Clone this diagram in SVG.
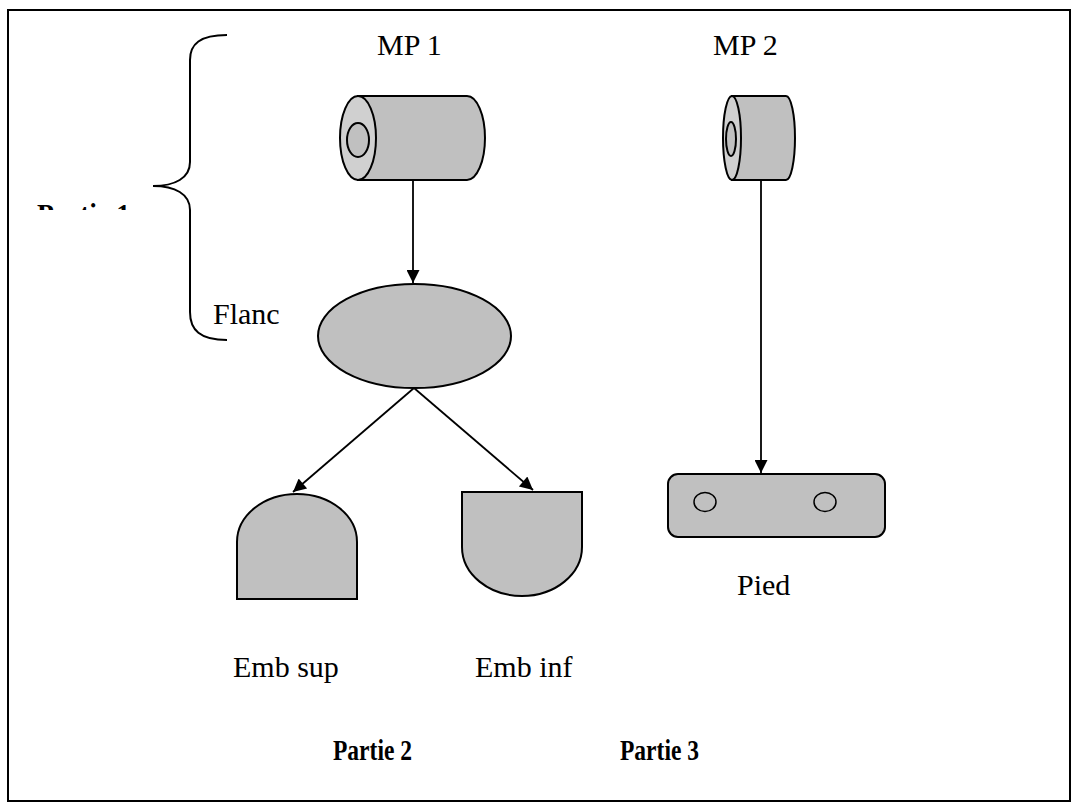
<svg xmlns="http://www.w3.org/2000/svg" width="1079" height="811" viewBox="0 0 1079 811">
  <style>
    .shape { fill: #c0c0c0; stroke: #000; stroke-width: 2; }
    .face { fill: #d0d0d0; stroke: #000; stroke-width: 2; }
    .lbl { font-family: "Liberation Serif", "Times New Roman", serif; font-size: 30px; fill: #000; }
    .bold { font-family: "Liberation Serif", "Times New Roman", serif; font-size: 30px; font-weight: bold; fill: #000; }
    .edge { fill: none; stroke: #000; stroke-width: 1.8; marker-end: url(#arrow); }
  </style>
  <defs>
    <marker id="arrow" viewBox="0 0 10 10" refX="10" refY="5" markerWidth="15" markerHeight="13" markerUnits="userSpaceOnUse" orient="auto">
      <path d="M0,0 L10,5 L0,10 Z" fill="#000"/>
    </marker>
    <clipPath id="cut">
      <rect x="0" y="195" width="200" height="15"/>
    </clipPath>
  </defs>

  <!-- frame -->
  <rect x="8" y="10" width="1062" height="791" fill="#fff" stroke="#000" stroke-width="2"/>

  <!-- brace grouping Partie 1 -->
  <g id="brace">
    <path d="M227,35 C200,35 190,44 190,60 L190,162 C190,178 175,186 153,186 C175,186 190,194 190,210 L190,312 C190,330 200,340 227,340" fill="none" stroke="#000" stroke-width="2"/>
    <text class="bold" x="37" y="224" textLength="93" lengthAdjust="spacingAndGlyphs" clip-path="url(#cut)">Partie 1</text>
  </g>

  <!-- raw material 1 -->
  <g id="mp1">
    <text class="lbl" x="377" y="55">MP 1</text>
    <path class="shape" d="M358,96 L467,96 A18,42 0 0 1 467,180 L358,180 Z"/>
    <ellipse class="face" cx="358" cy="138" rx="18" ry="42"/>
    <ellipse class="shape" cx="358" cy="140" rx="11" ry="17"/>
  </g>

  <!-- raw material 2 -->
  <g id="mp2">
    <text class="lbl" x="713" y="55">MP 2</text>
    <path class="shape" d="M732,96 L786,96 A9,42 0 0 1 786,180 L732,180 Z"/>
    <ellipse class="face" cx="732" cy="138" rx="9" ry="42"/>
    <ellipse class="shape" cx="731" cy="139" rx="5" ry="17"/>
  </g>

  <!-- flank -->
  <g id="flanc">
    <ellipse class="shape" cx="414.5" cy="336" rx="96.5" ry="52"/>
    <text class="lbl" x="213" y="324">Flanc</text>
  </g>

  <!-- upper bushing -->
  <g id="emb-sup">
    <path class="shape" d="M237,599 L237,542 A60,48 0 0 1 357,542 L357,599 Z"/>
    <text class="lbl" x="233" y="677">Emb sup</text>
  </g>

  <!-- lower bushing -->
  <g id="emb-inf">
    <path class="shape" d="M462,492 L582,492 L582,547 A60,49 0 0 1 462,547 Z"/>
    <text class="lbl" x="475" y="677">Emb inf</text>
  </g>

  <!-- foot -->
  <g id="pied">
    <rect class="shape" x="668" y="474" width="217" height="63" rx="10" ry="10"/>
    <ellipse fill="none" stroke="#000" stroke-width="1.5" cx="705" cy="502" rx="11" ry="9.5"/>
    <ellipse fill="none" stroke="#000" stroke-width="1.5" cx="825" cy="502" rx="11" ry="9.5"/>
    <text class="lbl" x="737" y="595">Pied</text>
  </g>

  <!-- part titles -->
  <g id="titles">
    <text class="bold" x="333" y="760" textLength="79" lengthAdjust="spacingAndGlyphs">Partie 2</text>
    <text class="bold" x="620" y="760" textLength="79" lengthAdjust="spacingAndGlyphs">Partie 3</text>
  </g>

  <!-- connectors -->
  <g id="connectors">
    <path class="edge" d="M413,180 L413,283"/>
    <path class="edge" d="M761,180 L761,473"/>
    <path class="edge" d="M414,388 L293,492"/>
    <path class="edge" d="M414,388 L533,490"/>
  </g>
</svg>
